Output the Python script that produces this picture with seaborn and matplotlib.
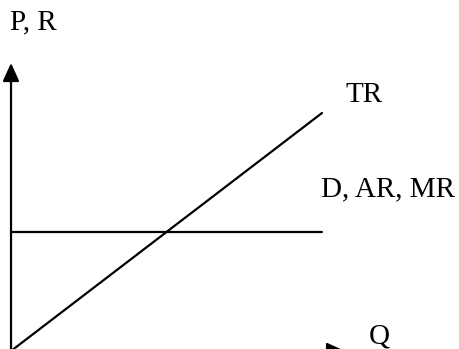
import matplotlib
matplotlib.use("Agg")
import matplotlib.pyplot as plt
import seaborn as sns
import pandas as pd

# Perfectly competitive firm: TR rises linearly, D = AR = MR is flat
q = [0, 10]
tr = [0, 10]
ar = [5, 5]

labels = {"y": "P, R", "x": "Q", "tr": "TR", "ar": "D, AR, MR"}

# axis extents (arrow tips) in data units
q_axis_max = 10.74
p_axis_max = 12.1

sns.set_theme(style="white")
plt.rcParams["font.family"] = ["Liberation Serif", "DejaVu Serif"]
plt.rcParams["text.color"] = "black"

df = pd.DataFrame({"Q": q, "TR": tr, "AR": ar})

fig = plt.figure(figsize=(4.6, 3.49), dpi=100)
ax = fig.add_axes([0, 0, 1, 1])

sns.lineplot(data=df, x="Q", y="TR", color="black", linewidth=1.6, ax=ax)
sns.lineplot(data=df, x="Q", y="AR", color="black", linewidth=1.6, ax=ax)

# axes with arrow heads
arrow = dict(arrowstyle="-|>,head_length=1.1,head_width=0.5", color="black",
             linewidth=1.6, shrinkA=0, shrinkB=0, mutation_scale=10)
ax.annotate("", xy=(0, p_axis_max), xytext=(0, 0), arrowprops=arrow,
            annotation_clip=False)
ax.annotate("", xy=(q_axis_max, 0), xytext=(0, 0), arrowprops=arrow,
            annotation_clip=False)

ax.set_xlim(-0.354, 14.437)
ax.set_ylim(0.084, 14.748)
ax.set_axis_off()

fs = 21
ax.text(10 / 460, 1 - 29.5 / 349, labels["y"], transform=ax.transAxes,
        fontsize=fs, ha="left", va="baseline", color="black")
ax.text(346 / 460, 1 - 102.3 / 349, labels["tr"], transform=ax.transAxes,
        fontsize=fs, ha="left", va="baseline", color="black")
ax.text(321.5 / 460, 1 - 196.7 / 349, labels["ar"], transform=ax.transAxes,
        fontsize=fs, ha="left", va="baseline", color="black")
ax.text(369 / 460, 1 - 344 / 349, labels["x"], transform=ax.transAxes,
        fontsize=fs, ha="left", va="baseline", color="black")

fig.savefig("out.png", dpi=100, facecolor="white")
